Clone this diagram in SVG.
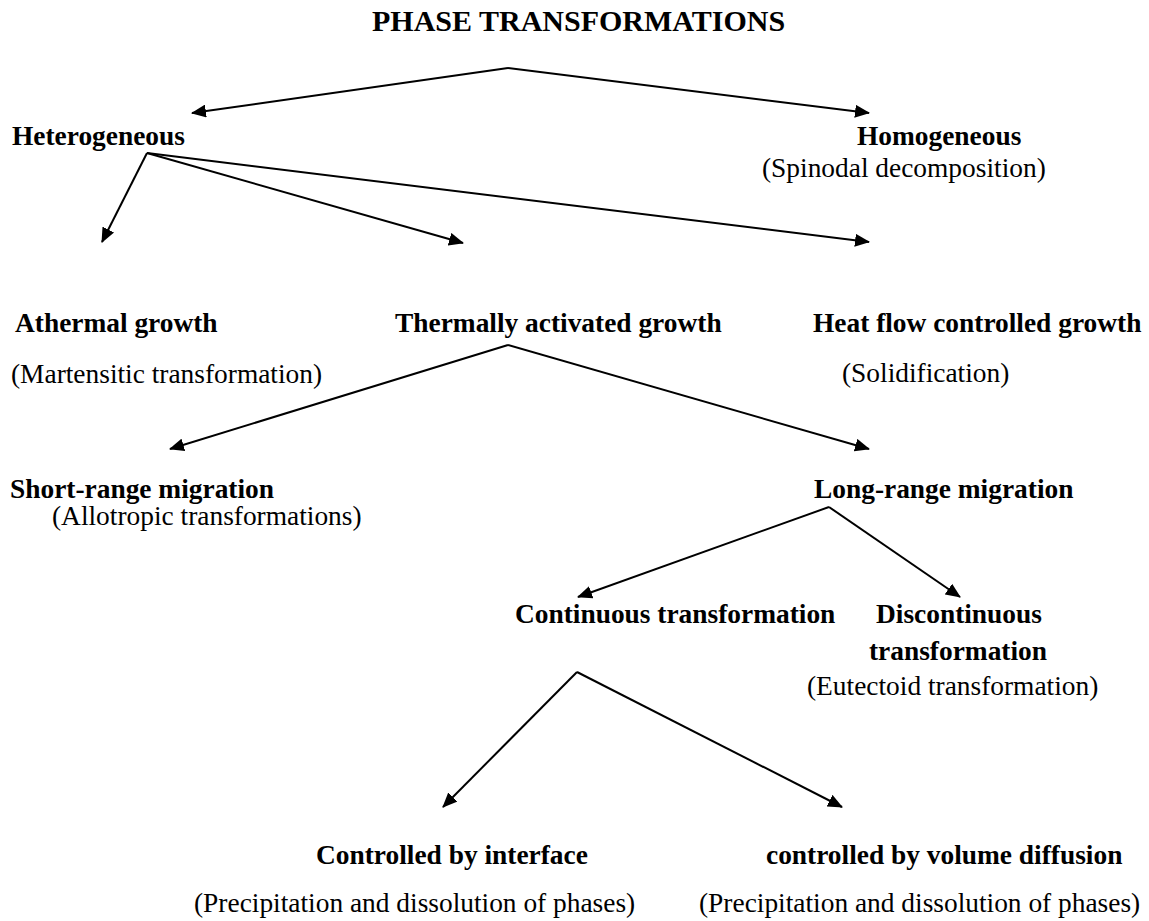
<svg xmlns="http://www.w3.org/2000/svg" width="1149" height="921" viewBox="0 0 1149 921">
<defs>
<marker id="ah" markerUnits="userSpaceOnUse" markerWidth="16" markerHeight="13" refX="14" refY="6.5" orient="auto">
<path d="M0,0 L15,6.5 L0,13 z" fill="#000"/>
</marker>
<style>
text{font-family:"Liberation Serif","Times New Roman",serif;font-size:27.4px;fill:#000}
.b{font-weight:bold}
.t{font-weight:bold;font-size:30px}
.c line{stroke:#000;stroke-width:2;marker-end:url(#ah)}
</style>
</defs>
<rect width="1149" height="921" fill="#fff"/>
<g id="title"><text class="t" x="372" y="31">PHASE TRANSFORMATIONS</text></g>
<g id="heterogeneous"><text class="b" x="12" y="145">Heterogeneous</text></g>
<g id="homogeneous"><text class="b" x="857" y="145">Homogeneous</text><text x="762" y="177">(Spinodal decomposition)</text></g>
<g id="athermal"><text class="b" x="15" y="332">Athermal growth</text><text x="11" y="383">(Martensitic transformation)</text></g>
<g id="thermally"><text class="b" x="395" y="332">Thermally activated growth</text></g>
<g id="heatflow"><text class="b" x="813" y="332">Heat flow controlled growth</text><text x="842" y="382">(Solidification)</text></g>
<g id="shortrange"><text class="b" x="10" y="498">Short-range migration</text><text x="52" y="525">(Allotropic transformations)</text></g>
<g id="longrange"><text class="b" x="814" y="498">Long-range migration</text></g>
<g id="continuous"><text class="b" x="515" y="623">Continuous transformation</text></g>
<g id="discontinuous"><text class="b" x="876" y="623">Discontinuous</text><text class="b" x="869" y="660">transformation</text><text x="807" y="695">(Eutectoid transformation)</text></g>
<g id="interface"><text class="b" x="316" y="864">Controlled by interface</text><text x="194" y="912">(Precipitation and dissolution of phases)</text></g>
<g id="volume"><text class="b" x="766" y="864">controlled by volume diffusion</text><text x="699" y="912">(Precipitation and dissolution of phases)</text></g>
<g id="connectors" class="c">
<line x1="508" y1="68" x2="192" y2="113"/>
<line x1="508" y1="68" x2="869" y2="113"/>
<line x1="147" y1="153" x2="102" y2="242"/>
<line x1="147" y1="153" x2="463" y2="243"/>
<line x1="147" y1="153" x2="869" y2="242"/>
<line x1="508" y1="345" x2="170" y2="449"/>
<line x1="508" y1="345" x2="869" y2="449"/>
<line x1="829" y1="507" x2="578" y2="597"/>
<line x1="829" y1="507" x2="960" y2="597"/>
<line x1="577" y1="672" x2="443" y2="807"/>
<line x1="577" y1="672" x2="842" y2="807"/>
</g>
</svg>
